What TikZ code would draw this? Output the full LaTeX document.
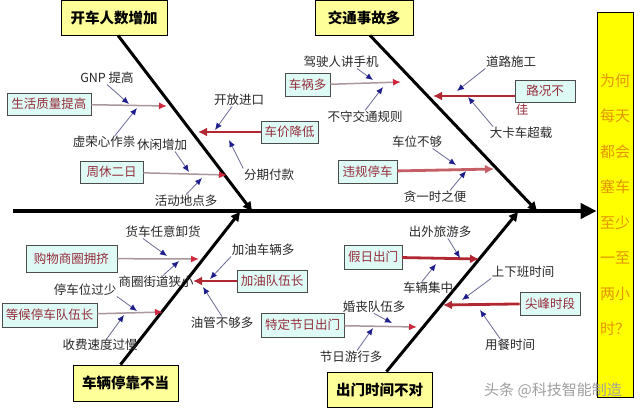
\documentclass[tikz,border=0pt]{standalone}
\usepackage{fontspec}
\setmainfont{Noto Sans CJK SC}
\usetikzlibrary{arrows.meta}
\definecolor{boxyellow}{RGB}{255,255,153}
\definecolor{headyellow}{RGB}{255,255,0}
\definecolor{headtext}{RGB}{228,150,0}
\definecolor{causefill}{RGB}{222,250,244}
\definecolor{causetext}{RGB}{150,45,60}
\definecolor{thickred}{RGB}{178,40,50}
\definecolor{thingray}{RGB}{170,150,155}
\definecolor{tipred}{RGB}{205,40,60}
\definecolor{subline}{RGB}{105,105,150}
\definecolor{tipblue}{RGB}{30,30,140}
\definecolor{labeltext}{RGB}{40,40,40}
\tikzset{
  catbox/.style={draw=black, line width=0.8pt, fill=boxyellow, font=\fontsize{14.5}{16}\selectfont\bfseries, inner sep=0pt},
  headbox/.style={draw=black, line width=0.8pt, fill=headyellow, text=headtext, align=center, inner sep=0pt,
    minimum width=36pt, minimum height=385pt, font=\fontsize{15}{35.5}\selectfont},
  causebox/.style={draw=gray!60!black, line width=0.6pt, fill=causefill, text=causetext,
    font=\fontsize{12.5}{14}\selectfont, inner sep=0pt},
  lbl/.style={font=\fontsize{12.5}{14}\selectfont, text=labeltext, inner sep=0.5pt},
  spineline/.style={line width=4pt, -{Triangle[length=16pt,width=15pt]}},
  bone/.style={line width=3pt, -{Triangle[length=9pt,width=9pt]}},
  thinarrow/.style={draw=thingray, line width=1.5pt, -{Latex[length=8pt,width=7pt,color=tipred]}},
  thickarrow/.style={draw=thickred, line width=2.8pt, -{Latex[length=9pt,width=9pt]}},
  subarrow/.style={draw=subline, line width=0.8pt, -{Latex[length=7pt,width=6pt,color=tipblue]}}
}
\begin{document}
\begin{tikzpicture}[x=1pt,y=-1pt]
\useasboundingbox (0,0) rectangle (640,410);
\fill[white] (0,0) rectangle (640,410);

% category boxes and head
\node[catbox, minimum width=106pt, minimum height=35pt] (c1) at (114,17.5) {开车人数增加};
\node[catbox, minimum width=98pt, minimum height=35pt] (c2) at (364,17.5) {交通事故多};
\node[catbox, minimum width=105pt, minimum height=36pt] (c3) at (125.5,383) {车辆停靠不当};
\node[catbox, minimum width=105pt, minimum height=35pt] (c4) at (379.5,389.5) {出门时间不对};
\node[headbox] (head) at (615,204.5) {为何\\每天\\都会\\塞车\\至少\\一至\\两小\\时？};

% spine and bones
\coordinate (tail) at (13,211);
\draw[spineline] (tail) -- (tail -| head.west);
\coordinate (j1) at (252,211);
\coordinate (j2) at (537,211);
\coordinate (j3) at (240,212);
\coordinate (j4) at (518,212);
\draw[bone] ([xshift=4pt]c1.south) -- (j1);
\draw[bone] ([xshift=6pt]c2.south) -- (j2);
\draw[bone] ([xshift=-5pt]c3.north) -- (j3);
\draw[bone] ([xshift=7pt]c4.north) -- (j4);

% ---------- group 1 ----------
\node[causebox, minimum width=84pt, minimum height=22pt] (b1) at (49,104) {生活质量提高};
\coordinate (e1) at (167,106);
\draw[thinarrow] (b1) -- (e1);
\node[lbl] (l1a) at (107,78) {GNP 提高};
\coordinate (t1a) at (129,104);
\draw[subarrow] (l1a.south) -- (t1a);
\node[lbl] (l1b) at (104,142) {虚荣心作祟};
\coordinate (t1b) at (137,108);
\draw[subarrow] ([xshift=11pt]l1b.north) -- (t1b);

\node[causebox, minimum width=57pt, minimum height=22pt] (b2) at (289.5,132) {车价降低};
\coordinate (e2) at (198,132);
\draw[thickarrow] (b2) -- (e2);
\node[lbl] (l2a) at (239,100) {开放进口};
\coordinate (t2a) at (215,130);
\draw[subarrow] ([xshift=-7pt]l2a.south) -- (t2a);
\node[lbl] (l2b) at (269,175) {分期付款};
\coordinate (t2b) at (229,140);
\draw[subarrow] (l2b.north west) -- (t2b);

\node[causebox, minimum width=63pt, minimum height=22pt] (b3) at (111.5,172) {周休二日};
\coordinate (e3) at (227,175);
\draw[thinarrow] (b3) -- (e3);
\node[lbl] (l3a) at (162,145) {休闲增加};
\coordinate (t3a) at (189,172);
\draw[subarrow] ([xshift=13pt]l3a.south) -- (t3a);
\node[lbl] (l3b) at (186,201) {活动地点多};
\coordinate (t3b) at (202,178);
\draw[subarrow] (l3b.north) -- (t3b);

% ---------- group 2 ----------
\node[causebox, minimum width=45pt, minimum height=23pt] (b4) at (307.5,85) {车祸多};
\coordinate (e4) at (401,82);
\draw[thinarrow] (b4) -- (e4);
\node[lbl] (l4a) at (341,62) {驾驶人讲手机};
\coordinate (t4a) at (373,80);
\draw[subarrow] ([xshift=16pt]l4a.south) -- (t4a);
\node[lbl] (l4b) at (365,117) {不守交通规则};
\coordinate (t4b) at (383,87);
\draw[subarrow] (l4b.north) -- (t4b);

\node[causebox, minimum width=60pt, minimum height=22pt] (b5) at (545,91) {路况不};
\node[lbl, text=causetext] (b5x) at (522,110) {佳};
\coordinate (e5) at (433,96);
\draw[thickarrow] (b5.west |- e5) -- (e5);
\node[lbl] (l5a) at (511,62) {道路施工};
\coordinate (t5a) at (457,91);
\draw[subarrow] (l5a.south west) -- (t5a);
\node[lbl] (l5b) at (521,133) {大卡车超载};
\coordinate (t5b) at (468,97);
\draw[subarrow] ([xshift=-28pt]l5b.north) -- (t5b);

\node[causebox, minimum width=59pt, minimum height=23pt] (b6) at (367.5,171.5) {违规停车};
\coordinate (e6) at (494,169);
\draw[thickarrow, draw=thickred!75] (b6) -- (e6);
\node[lbl] (l6a) at (417,142) {车位不够};
\coordinate (t6a) at (456,165);
\draw[subarrow] ([xshift=-10pt]l6a.south east) -- (t6a);
\node[lbl] (l6b) at (435,197) {贪一时之便};
\coordinate (t6b) at (466,171);
\draw[subarrow] ([xshift=15pt]l6b.north) -- (t6b);

% ---------- group 3 ----------
\node[causebox, minimum width=91pt, minimum height=27pt] (b7) at (71.5,258.5) {购物商圈拥挤};
\coordinate (e7) at (199,259);
\draw[thinarrow] (b7) -- (e7);
\node[lbl] (l7a) at (163,232) {货车任意卸货};
\coordinate (t7a) at (167,256);
\draw[subarrow] ([xshift=-20pt]l7a.south) -- (t7a);
\node[lbl] (l7b) at (156,282) {商圈街道狭小};
\coordinate (t7b) at (179,261);
\draw[subarrow] ([xshift=7pt]l7b.north) -- (t7b);

\node[causebox, minimum width=95pt, minimum height=24pt] (b8) at (49.5,315) {等候停车队伍长};
\coordinate (e8) at (163,312);
\draw[thinarrow] (b8) -- (e8);
\node[lbl] (l8a) at (85,290) {停车位过少};
\coordinate (t8a) at (137,311);
\draw[subarrow] (l8a.south east) -- (t8a);
\node[lbl] (l8b) at (100,345) {收费速度过慢};
\coordinate (t8b) at (124,315);
\draw[subarrow] ([xshift=7pt]l8b.north) -- (t8b);

\node[causebox, minimum width=70pt, minimum height=22pt] (b9) at (272,281) {加油队伍长};
\coordinate (e9) at (193,281);
\draw[thickarrow] (b9) -- (e9);
\node[lbl] (l9a) at (263,250) {加油车辆多};
\coordinate (t9a) at (210,279);
\draw[subarrow] (l9a.south west) -- (t9a);
\node[lbl] (l9b) at (222,323) {油管不够多};
\coordinate (t9b) at (203,287);
\draw[subarrow] (l9b.north) -- (t9b);

% ---------- group 4 ----------
\node[causebox, minimum width=58pt, minimum height=24pt] (b10) at (373,257) {假日出门};
\coordinate (e10) at (479,259);
\draw[thickarrow] (b10) -- (e10);
\node[lbl] (l10a) at (440,232) {出外旅游多};
\coordinate (t10a) at (460,258);
\draw[subarrow] ([xshift=8pt]l10a.south) -- (t10a);
\node[lbl] (l10b) at (428,288) {车辆集中};
\coordinate (t10b) at (436,264);
\draw[subarrow] ([xshift=-6pt]l10b.north) -- (t10b);

\node[causebox, minimum width=83pt, minimum height=24pt] (b11) at (302.5,325) {特定节日出门};
\coordinate (e11) at (417,327);
\draw[thinarrow] (b11) -- (e11);
\node[lbl] (l11a) at (374,307) {婚丧队伍多};
\coordinate (t11a) at (392,323);
\draw[subarrow] (l11a.south) -- (t11a);
\node[lbl] (l11b) at (351,357) {节日游行多};
\coordinate (t11b) at (373,328);
\draw[subarrow] ([xshift=6pt]l11b.north) -- (t11b);

\node[causebox, minimum width=60pt, minimum height=23pt] (b12) at (550,303.5) {尖峰时段};
\coordinate (e12) at (443,305);
\draw[thickarrow] (b12) -- (e12);
\node[lbl] (l12a) at (523,272) {上下班时间};
\coordinate (t12a) at (462,300);
\draw[subarrow] (l12a.south west) -- (t12a);
\node[lbl] (l12b) at (510,345) {用餐时间};
\coordinate (t12b) at (480,310);
\draw[subarrow] ([xshift=-10pt]l12b.north) -- (t12b);

% watermark
\node[font=\fontsize{15}{16}\selectfont, text=gray!75] (wm) at (553,390) {头条 @科技智能制造};
\end{tikzpicture}
\end{document}
